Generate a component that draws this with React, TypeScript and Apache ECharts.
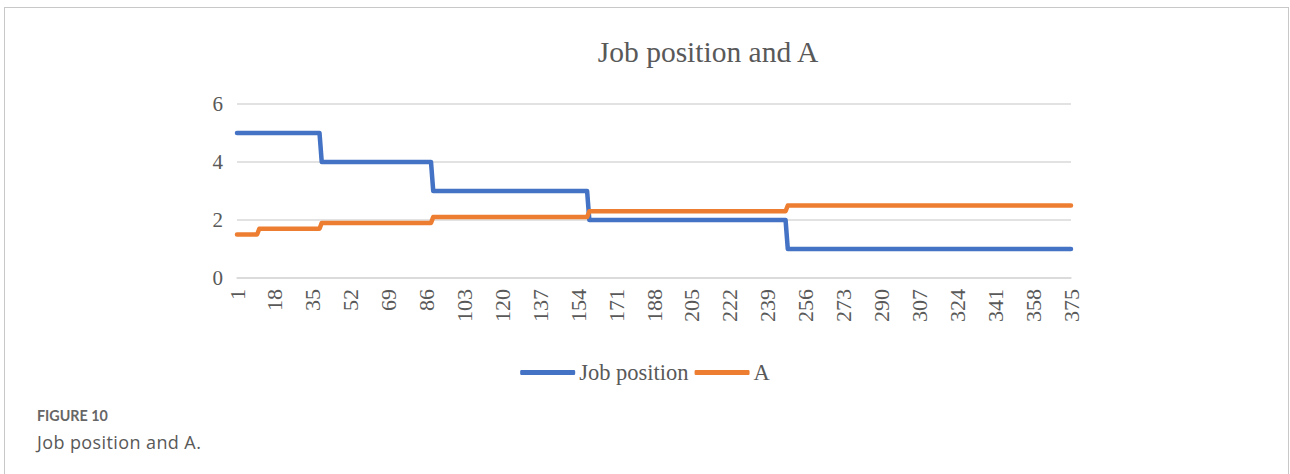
import React, { useEffect, useRef } from "react";
import * as echarts from "echarts";

// Categories 1..375 (index labels on the x axis)
const categoryCount = 375;
const categories: string[] = Array.from({ length: categoryCount }, (_, i) => String(i + 1));

// Step data as runs: first category of each run and its value
const jobPositionStarts = [1, 39, 89, 159, 248];
const jobPositionValues = [5, 4, 3, 2, 1];
const aStarts = [1, 11, 39, 89, 159, 248];
const aValues = [1.5, 1.7, 1.9, 2.1, 2.3, 2.5];

const yTicks = [0, 2, 4, 6];

function expandRuns(starts: number[], values: number[]): number[] {
  const out: number[] = [];
  for (let c = 1; c <= categoryCount; c++) {
    let v = values[0];
    for (let k = 0; k < starts.length; k++) {
      if (c >= starts[k]) v = values[k];
    }
    out.push(v);
  }
  return out;
}

const jobPosition = expandRuns(jobPositionStarts, jobPositionValues);
const aSeries = expandRuns(aStarts, aValues);

const SERIF = "'Liberation Serif', 'Times New Roman', serif";
const TXT = "#595959";

export default function App() {
  const ref = useRef<HTMLDivElement>(null);
  useEffect(() => {
    if (!ref.current) return;
    const chart = echarts.init(ref.current, undefined, { renderer: "svg" });
    chart.setOption({
      animation: false,
      title: {
        text: "Job position and A",
        left: 703,
        top: 32,
        textAlign: "center",
        textStyle: { fontFamily: SERIF, fontSize: 29.5, fontWeight: "normal", color: TXT },
      },
      legend: {
        data: ["Job position", "A"],
        left: "center",
        top: 356,
        icon: "roundRect",
        itemWidth: 55,
        itemHeight: 5,
        itemGap: 6,
        textStyle: { fontFamily: SERIF, fontSize: 22.5, color: TXT, padding: [0, 0, 0, -1] },
      },
      grid: { left: 237, right: 219, top: 104, bottom: 196, containLabel: false },
      xAxis: {
        type: "category",
        data: categories,
        boundaryGap: false,
        axisLine: { show: true, lineStyle: { color: "#d9d9d9", width: 1.5 } },
        axisTick: { show: false },
        axisLabel: {
          interval: 16,
          rotate: 90,
          margin: 11,
          fontFamily: SERIF,
          fontSize: 22,
          color: TXT,
        },
        splitLine: { show: false },
      },
      yAxis: {
        type: "value",
        min: yTicks[0],
        max: yTicks[yTicks.length - 1],
        interval: 2,
        axisLine: { show: false },
        axisTick: { show: false },
        axisLabel: { margin: 14, fontFamily: SERIF, fontSize: 21, color: TXT },
        splitLine: { lineStyle: { color: "#d9d9d9", width: 1.5 } },
      },
      series: [
        {
          name: "Job position",
          type: "line",
          data: jobPosition,
          symbol: "none",
          lineStyle: { color: "#4472C4", width: 4.5, cap: "round", join: "round" },
          itemStyle: { color: "#4472C4" },
        },
        {
          name: "A",
          type: "line",
          data: aSeries,
          symbol: "none",
          lineStyle: { color: "#ED7D31", width: 4.5, cap: "round", join: "round" },
          itemStyle: { color: "#ED7D31" },
        },
      ],
    });
    return () => chart.dispose();
  }, []);

  return (
    <div style={{ position: "fixed", left: 0, top: 0, width: 1290, height: 474, background: "#fff" }}>
      <div
        style={{
          position: "absolute",
          left: 4,
          top: 7,
          width: 1283,
          height: 480,
          borderLeft: "1.5px solid #c8c8c8",
          borderTop: "1.5px solid #c8c8c8",
          borderRight: "1.5px solid #c8c8c8",
        }}
      />
      <div ref={ref} style={{ position: "absolute", left: 0, top: 0, width: 1290, height: 474 }} />
      <div
        style={{
          position: "absolute",
          left: 37,
          top: 407,
          fontFamily: "Lato, 'Open Sans', sans-serif",
          fontWeight: 700,
          fontSize: 14.3,
          color: "#666",
          lineHeight: "18px",
        }}
      >
        FIGURE 10
      </div>
      <div
        style={{
          position: "absolute",
          left: 37,
          top: 430,
          fontFamily: "'Open Sans', sans-serif",
          fontSize: 18,
          letterSpacing: "0.4px",
          color: "#595959",
          lineHeight: "24px",
        }}
      >
        Job position and A.
      </div>
    </div>
  );
}
